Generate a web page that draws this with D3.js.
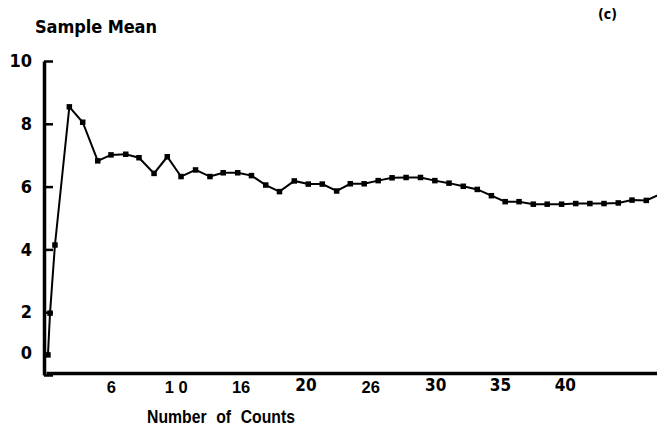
<!DOCTYPE html>
<html>
<head>
<meta charset="utf-8">
<script src="https://cdn.jsdelivr.net/npm/d3@7"></script>
<style>
  body { margin: 0; background: #fff; }
  svg { display: block; }
  text { font-family: "Liberation Sans", Arial, sans-serif; font-weight: bold; fill: #000; }
  .heavy { font-family: "DejaVu Sans Condensed", "DejaVu Sans", sans-serif; font-stretch: condensed; font-weight: bold; }
</style>
</head>
<body>
<svg id="chart" width="657" height="436"></svg>
<script>
// counts and the running sample mean
const counts = [0.15, 0.31, 0.69, 1.80, 2.83, 3.99, 5.01, 6.15, 7.17, 8.33,
  9.35, 10.41, 11.53, 12.64, 13.66, 14.78, 15.84, 16.94, 18.00, 19.14,
  20.22, 21.30, 22.41, 23.46, 24.53, 25.61, 26.68, 27.76, 28.87, 29.98,
  31.07, 32.17, 33.25, 34.34, 35.40, 36.47, 37.57, 38.64, 39.75, 40.84,
  41.93, 43.02, 44.12, 45.18, 46.28, 48.0];
const sampleMean = [0.64, 1.97, 4.14, 8.54, 8.05, 6.82, 7.01, 7.03, 6.92, 6.42,
  6.95, 6.32, 6.53, 6.32, 6.44, 6.44, 6.35, 6.05, 5.84, 6.18,
  6.08, 6.08, 5.86, 6.09, 6.09, 6.19, 6.28, 6.29, 6.29, 6.19,
  6.11, 6.01, 5.91, 5.71, 5.52, 5.52, 5.44, 5.44, 5.44, 5.46,
  5.46, 5.46, 5.48, 5.57, 5.56, 5.88];

const xTicks = [5, 10, 15, 20, 25, 30, 35, 40];
const xTickLabels = ["6", "1 0", "16", "20", "26", "30", "35", "40"];
const yTicks = [0, 2, 4, 6, 8, 10];
const yTickLabels = ["0", "2", "4", "6", "8", "10"];

const svg = d3.select("#chart");
const data = counts.map((c, i) => ({ n: c, mean: sampleMean[i] }));

const x = d3.scaleLinear().domain([0, 48]).range([46, 668.6]);
const y = d3.scaleLinear().domain([0, 10]).range([375, 61]);

const isHeavy = d => d >= 20 && d !== 25;

// x axis: heavy baseline, labels only
const xAxis = svg.append("g")
  .attr("transform", "translate(0,373)")
  .call(d3.axisBottom(x)
    .tickValues(xTicks)
    .tickFormat((d, i) => xTickLabels[i])
    .tickSize(0)
    .tickPadding(8));
xAxis.select(".domain").attr("stroke", "#000").attr("stroke-width", 3.5);
xAxis.selectAll("text")
  .attr("class", d => isHeavy(d) ? "heavy" : null)
  .style("font-size", d => isHeavy(d) ? "17px" : "16.5px")
  .attr("dy", d => isHeavy(d) ? "0.6em" : "0.7em");

// y axis: ticks point inward, labels on the left
const yAxis = svg.append("g")
  .attr("transform", "translate(44,0)")
  .call(d3.axisLeft(y)
    .tickValues(yTicks)
    .tickFormat((d, i) => yTickLabels[i])
    .tickSize(-9)
    .tickSizeOuter(0)
    .tickPadding(12));
yAxis.select(".domain").attr("stroke", "#000").attr("stroke-width", 3.5);
yAxis.selectAll(".tick line").attr("stroke", "#000").attr("stroke-width", 2.5);
yAxis.selectAll("text")
  .attr("class", "heavy")
  .style("font-size", "18px")
  .attr("dy", d => d === 0 ? "-0.9em" : "0.32em");

// mean line
const line = d3.line()
  .x(d => x(d.n))
  .y(d => y(d.mean));

svg.append("path")
  .datum(data)
  .attr("fill", "none")
  .attr("stroke", "#000")
  .attr("stroke-width", 2)
  .attr("d", line);

svg.selectAll(".dot")
  .data(data)
  .enter().append("rect")
  .attr("class", "dot")
  .attr("x", d => x(d.n) - 2.75)
  .attr("y", d => y(d.mean) - 2.75)
  .attr("width", 5.5)
  .attr("height", 5.5)
  .attr("fill", "#000");

// titles
svg.append("text")
  .attr("class", "heavy")
  .attr("x", 35).attr("y", 33)
  .style("font-size", "18px")
  .attr("textLength", 122)
  .text("Sample Mean");

svg.append("text")
  .attr("class", "heavy")
  .attr("x", 598).attr("y", 19)
  .style("font-size", "14px")
  .text("(c)");

svg.append("text")
  .attr("x", 221).attr("y", 423)
  .attr("text-anchor", "middle")
  .style("font-size", "18px")
  .style("word-spacing", "6px")
  .attr("textLength", 148)
  .attr("lengthAdjust", "spacingAndGlyphs")
  .text("Number of Counts");
</script>
</body>
</html>
